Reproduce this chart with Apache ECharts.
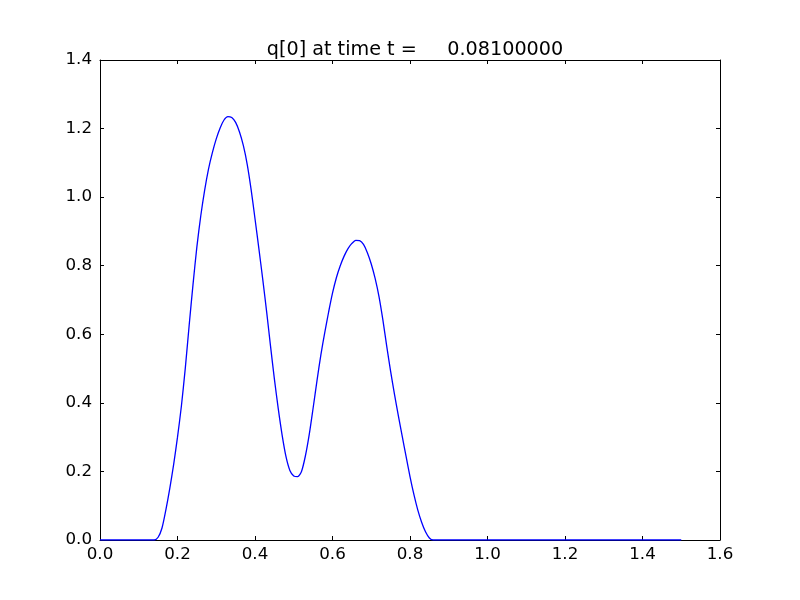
<!DOCTYPE html>
<html>
<head>
<meta charset="utf-8">
<script src="https://cdn.jsdelivr.net/npm/echarts@6/dist/echarts.min.js"></script>
<style>html,body{margin:0;padding:0;background:#fff;}#c{width:800px;height:600px;}</style>
</head>
<body>
<div id="c"></div>
<script>
const titleText = 'q[0] at time t =     0.08100000';
const xTicks = [0.0, 0.2, 0.4, 0.6, 0.8, 1.0, 1.2, 1.4, 1.6];
const yTicks = [0.0, 0.2, 0.4, 0.6, 0.8, 1.0, 1.2, 1.4];
const xs = [0.0, 0.14, 0.15, 0.16, 0.17, 0.18, 0.19, 0.20, 0.21, 0.22, 0.23, 0.24, 0.25, 0.26, 0.27, 0.28, 0.29, 0.30, 0.31, 0.32, 0.33, 0.34, 0.35, 0.36, 0.37, 0.38, 0.39, 0.40, 0.41, 0.42, 0.43, 0.44, 0.45, 0.46, 0.47, 0.48, 0.49, 0.50, 0.51, 0.52, 0.53, 0.54, 0.55, 0.56, 0.57, 0.58, 0.59, 0.60, 0.61, 0.62, 0.63, 0.64, 0.65, 0.66, 0.67, 0.68, 0.69, 0.70, 0.71, 0.72, 0.73, 0.74, 0.75, 0.76, 0.77, 0.78, 0.79, 0.80, 0.81, 0.82, 0.83, 0.84, 0.85, 0.86, 1.5];
const q0 = [0.0, 0.0, 0.008, 0.035, 0.088, 0.150, 0.220, 0.300, 0.390, 0.500, 0.625, 0.745, 0.855, 0.945, 1.020, 1.082, 1.130, 1.170, 1.202, 1.225, 1.235, 1.232, 1.218, 1.190, 1.150, 1.095, 1.022, 0.937, 0.850, 0.760, 0.666, 0.566, 0.470, 0.383, 0.306, 0.243, 0.203, 0.187, 0.185, 0.200, 0.245, 0.308, 0.385, 0.465, 0.540, 0.605, 0.665, 0.720, 0.765, 0.800, 0.828, 0.850, 0.865, 0.874, 0.873, 0.862, 0.838, 0.805, 0.763, 0.710, 0.642, 0.565, 0.492, 0.425, 0.362, 0.302, 0.243, 0.185, 0.133, 0.088, 0.052, 0.024, 0.006, 0.0, 0.0];

const chart = echarts.init(document.getElementById('c'));
const font = 'DejaVu Sans';
const fmt = v => Number(v).toFixed(1);
const axisCommon = {
  type: 'value',
  axisLine: {show: true, onZero: false, lineStyle: {color: '#000', width: 1}},
  axisTick: {show: true, inside: true, length: 4, lineStyle: {color: '#000', width: 1}},
  splitLine: {show: false},
  minorTick: {show: false}
};
chart.setOption({
  animation: false,
  backgroundColor: '#fff',
  title: {
    text: titleText, left: 410, top: 36, textAlign: 'center',
    textStyle: {fontFamily: font, fontSize: 19.2, fontWeight: 'normal', color: '#000'}
  },
  grid: {left: 100, right: 80, top: 60, bottom: 60, containLabel: false},
  xAxis: [
    Object.assign({}, axisCommon, {
      min: xTicks[0], max: xTicks[xTicks.length - 1], interval: 0.2, position: 'bottom',
      axisLabel: {show: true, formatter: fmt, margin: 6, fontFamily: font, fontSize: 16.7, color: '#000', showMinLabel: true, showMaxLabel: true}
    }),
    Object.assign({}, axisCommon, {
      min: xTicks[0], max: xTicks[xTicks.length - 1], interval: 0.2, position: 'top',
      axisLabel: {show: false}
    })
  ],
  yAxis: [
    Object.assign({}, axisCommon, {
      min: yTicks[0], max: yTicks[yTicks.length - 1], interval: 0.2, position: 'left',
      axisLabel: {show: true, formatter: fmt, margin: 8, fontFamily: font, fontSize: 16.7, color: '#000', showMinLabel: true, showMaxLabel: true}
    }),
    Object.assign({}, axisCommon, {
      min: yTicks[0], max: yTicks[yTicks.length - 1], interval: 0.2, position: 'right',
      axisLabel: {show: false}
    })
  ],
  series: [{
    type: 'line',
    data: xs.map((x, i) => [x, q0[i]]),
    showSymbol: false,
    smooth: 0.25,
    lineStyle: {color: '#0000ff', width: 1.3},
    itemStyle: {color: '#0000ff'}
  }]
});
</script>
</body>
</html>
